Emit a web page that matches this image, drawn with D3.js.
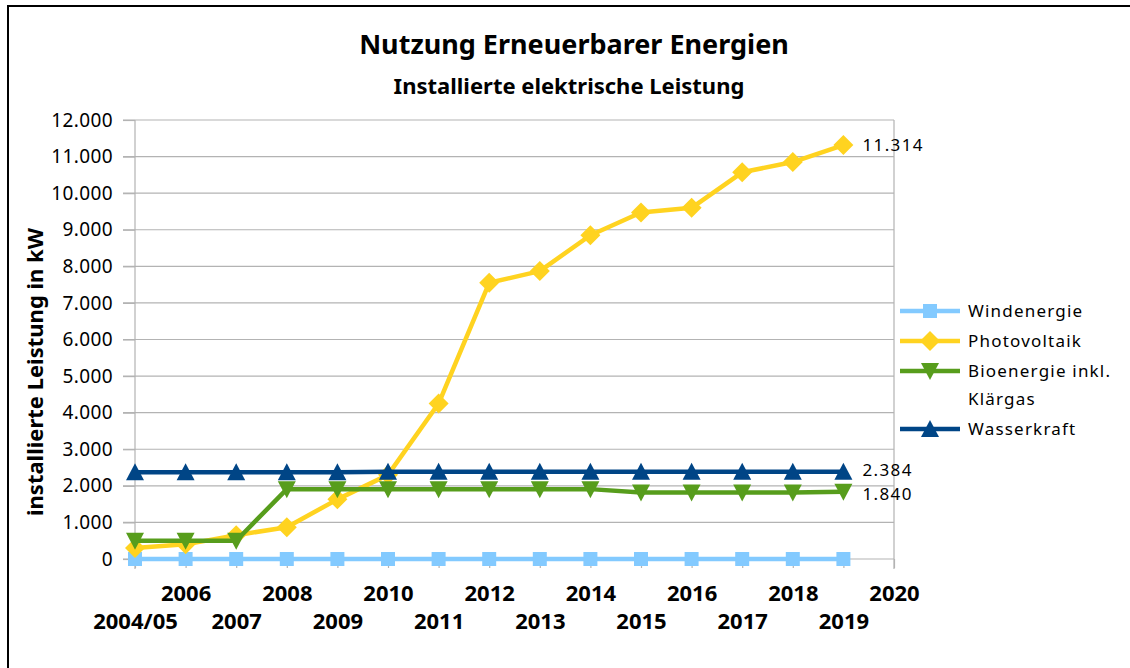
<!DOCTYPE html>
<html>
<head>
<meta charset="utf-8">
<script src="https://cdn.jsdelivr.net/npm/d3@7"></script>
<style>
  html, body { margin: 0; padding: 0; background: #fff; }
  svg { display: block; font-family: "Noto Sans", "Open Sans", sans-serif; }
</style>
</head>
<body>
<div id="chart"></div>
<script>
// ---------- data ----------
const CATEGORIES = ["2004/05","2006","2007","2008","2009","2010","2011","2012","2013","2014","2015","2016","2017","2018","2019","2020"];

const WIND  = [0,0,0,0,0,0,0,0,0,0,0,0,0,0,0];
const PV    = [300,400,650,870,1630,2300,4250,7550,7870,8850,9470,9600,10570,10850,11314];
const BIO   = [500,500,500,1910,1910,1910,1910,1910,1910,1910,1820,1820,1820,1820,1840];
const WATER = [2370,2370,2370,2370,2370,2384,2384,2384,2384,2384,2384,2384,2384,2384,2384];

const Y_TICKS = [0,1000,2000,3000,4000,5000,6000,7000,8000,9000,10000,11000,12000];

const SERIES = [
  { name: "Windenergie", values: WIND, color: "#83caff", marker: "square" },
  { name: "Photovoltaik", values: PV, color: "#ffd320", marker: "diamond" },
  { name: "Bioenergie inkl. Klärgas", values: BIO, color: "#579d1c", marker: "down" },
  { name: "Wasserkraft", values: WATER, color: "#004586", marker: "up" }
];

// ---------- layout ----------
const width = 1130, height = 668;
const plot = { left: 135, right: 894, top: 120, bottom: 559 };

const de = d3.formatLocale({ decimal: ",", thousands: ".", grouping: [3], currency: ["", " €"] });
const fmt = de.format(",.0f");

function markerPath(type) {
  switch (type) {
    case "square":  return "M-7,-7H7V7H-7Z";
    case "diamond": return "M0,-10L10,0L0,10L-10,0Z";
    case "down":    return "M-9,-8H9L0,9Z";
    case "up":      return "M-9,8H9L0,-9Z";
  }
}

const svg = d3.select("#chart").append("svg")
  .attr("width", width)
  .attr("height", height);

// outer frame
svg.append("rect")
  .attr("x", 8).attr("y", 6)
  .attr("width", 1140).attr("height", 700)
  .attr("fill", "none")
  .attr("stroke", "#000")
  .attr("stroke-width", 2);

// titles
svg.append("text")
  .attr("x", 574).attr("y", 54)
  .attr("text-anchor", "middle")
  .attr("font-size", 27).attr("font-weight", "bold")
  .text("Nutzung Erneuerbarer Energien");

svg.append("text")
  .attr("x", 569).attr("y", 94)
  .attr("text-anchor", "middle")
  .attr("font-size", 22).attr("font-weight", "bold")
  .text("Installierte elektrische Leistung");

// scales
const x = d3.scalePoint().domain(CATEGORIES).range([plot.left, plot.right]);
const y = d3.scaleLinear().domain([0, 12000]).range([plot.bottom, plot.top]);

// grid
svg.append("g")
  .selectAll("line")
  .data(Y_TICKS)
  .join("line")
  .attr("x1", plot.left - 12).attr("x2", plot.right)
  .attr("y1", d => y(d)).attr("y2", d => y(d))
  .attr("stroke", "#b3b3b3").attr("stroke-width", 1.2);

// y axis
const yAxis = svg.append("g")
  .attr("transform", `translate(${plot.left},0)`)
  .call(d3.axisLeft(y).tickValues(Y_TICKS).tickFormat(fmt).tickSize(12).tickPadding(10));
yAxis.select(".domain").remove();
yAxis.selectAll("line").attr("stroke", "#b3b3b3").attr("stroke-width", 1.2);
yAxis.selectAll("text")
  .attr("font-size", 19).attr("letter-spacing", 0.4)
  .attr("fill", "#000").attr("font-family", "Noto Sans");

svg.append("line")
  .attr("x1", plot.left).attr("x2", plot.left)
  .attr("y1", plot.top).attr("y2", plot.bottom + 10)
  .attr("stroke", "#b3b3b3").attr("stroke-width", 1.2);
svg.append("line")
  .attr("x1", plot.right).attr("x2", plot.right)
  .attr("y1", plot.top).attr("y2", plot.bottom + 10)
  .attr("stroke", "#b3b3b3").attr("stroke-width", 1.2);

// x axis
const xAxis = svg.append("g")
  .attr("transform", `translate(0,${plot.bottom})`)
  .call(d3.axisBottom(x).tickSize(9).tickPadding(0));
xAxis.select(".domain").remove();
xAxis.selectAll("line").attr("stroke", "#b3b3b3").attr("stroke-width", 1.2);
xAxis.selectAll("text")
  .attr("font-size", 22).attr("font-weight", "bold").attr("fill", "#000")
  .attr("font-family", "Noto Sans")
  .attr("dy", null)
  .attr("y", (d, i) => i % 2 === 0 ? 70 : 42);

// y axis title
svg.append("text")
  .attr("transform", "translate(43,372) rotate(-90)")
  .attr("text-anchor", "middle")
  .attr("font-size", 22).attr("font-weight", "bold")
  .text("installierte Leistung in kW");

// series
const line = d3.line()
  .x((d, i) => x(CATEGORIES[i]))
  .y(d => y(d));

const seriesG = svg.append("g")
  .selectAll("g")
  .data(SERIES)
  .join("g");

seriesG.append("path")
  .attr("d", d => line(d.values))
  .attr("fill", "none")
  .attr("stroke", d => d.color)
  .attr("stroke-width", 4.5)
  .attr("stroke-linejoin", "round");

seriesG.each(function(s) {
  d3.select(this).selectAll("path.mk")
    .data(s.values)
    .join("path")
    .attr("class", "mk")
    .attr("transform", (d, i) => `translate(${x(CATEGORIES[i])},${y(d)})`)
    .attr("d", markerPath(s.marker))
    .attr("fill", s.color);
});

// end labels (small nudges keep the two close ones apart)
const endLabels = [
  { value: PV[PV.length - 1], nudge: 0 },
  { value: WATER[WATER.length - 1], nudge: -2 },
  { value: BIO[BIO.length - 1], nudge: 2 }
];
svg.append("g")
  .selectAll("text")
  .data(endLabels)
  .join("text")
  .attr("x", x(CATEGORIES[14]) + 19)
  .attr("y", d => y(d.value) + d.nudge)
  .attr("dy", "0.35em")
  .attr("font-size", 17)
  .attr("letter-spacing", 1.4)
  .text(d => fmt(d.value));

// legend
const legendRows = [
  { s: SERIES[0], y: 311, lines: ["Windenergie"] },
  { s: SERIES[1], y: 341, lines: ["Photovoltaik"] },
  { s: SERIES[2], y: 371, lines: ["Bioenergie inkl.", "Klärgas"] },
  { s: SERIES[3], y: 429, lines: ["Wasserkraft"] }
];
const legend = svg.append("g");
const lg = legend.selectAll("g").data(legendRows).join("g")
  .attr("transform", d => `translate(900,${d.y})`);
lg.append("line")
  .attr("x1", 0).attr("x2", 60)
  .attr("stroke", d => d.s.color).attr("stroke-width", 4.5);
lg.append("path")
  .attr("transform", "translate(30,0)")
  .attr("d", d => markerPath(d.s.marker))
  .attr("fill", d => d.s.color);
lg.append("text")
  .attr("font-size", 17)
  .attr("letter-spacing", 1.2)
  .selectAll("tspan")
  .data(d => d.lines)
  .join("tspan")
  .attr("x", 68)
  .attr("y", (d, i) => i * 28)
  .attr("dy", "0.35em")
  .text(d => d);
</script>
</body>
</html>
